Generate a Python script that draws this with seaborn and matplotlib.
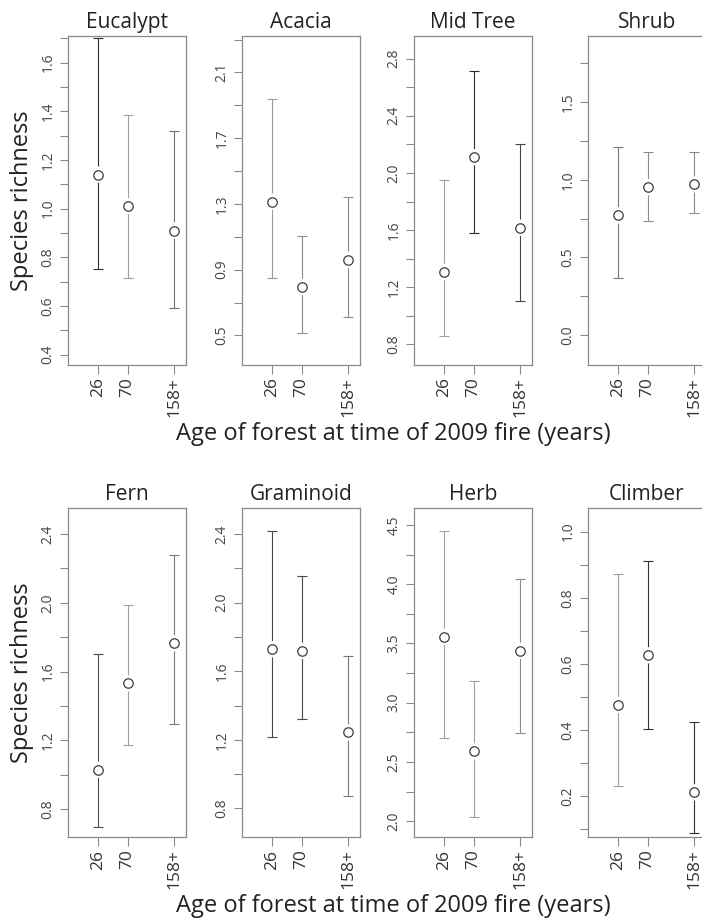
import numpy as np
import seaborn as sns
import matplotlib.pyplot as plt

# age classes on the x axis
ages = ["26", "70", "158+"]
groups = ["Eucalypt", "Acacia", "Mid Tree", "Shrub",
          "Fern", "Graminoid", "Herb", "Climber"]

# mean species richness and interval ends
eucalypt_mean = [1.14, 1.01, 0.91]
eucalypt_low = [0.75, 0.715, 0.59]
eucalypt_high = [1.70, 1.385, 1.32]

acacia_mean = [1.314, 0.795, 0.96]
acacia_low = [0.852, 0.516, 0.611]
acacia_high = [1.94, 1.108, 1.34]

midtree_mean = [1.308, 2.11, 1.616]
midtree_low = [0.862, 1.577, 1.105]
midtree_high = [1.953, 2.713, 2.2]

shrub_mean = [0.77, 0.953, 0.97]
shrub_low = [0.366, 0.734, 0.783]
shrub_high = [1.213, 1.179, 1.179]

fern_mean = [1.029, 1.531, 1.764]
fern_low = [0.699, 1.175, 1.296]
fern_high = [1.70, 1.985, 2.278]

graminoid_mean = [1.728, 1.718, 1.243]
graminoid_low = [1.219, 1.32, 0.873]
graminoid_high = [2.416, 2.158, 1.689]

herb_mean = [3.556, 2.589, 3.439]
herb_low = [2.703, 2.037, 2.747]
herb_high = [4.446, 3.183, 4.042]

climber_mean = [0.476, 0.626, 0.212]
climber_low = [0.231, 0.402, 0.09]
climber_high = [0.873, 0.912, 0.425]

# labelled y ticks of each panel
eucalypt_yticks = [0.4, 0.6, 0.8, 1.0, 1.2, 1.4, 1.6]
acacia_yticks = [0.5, 0.9, 1.3, 1.7, 2.1]
midtree_yticks = [0.8, 1.2, 1.6, 2.0, 2.4, 2.8]
shrub_yticks = [0.0, 0.5, 1.0, 1.5]
fern_yticks = [0.8, 1.2, 1.6, 2.0, 2.4]
graminoid_yticks = [0.8, 1.2, 1.6, 2.0, 2.4]
herb_yticks = [2.0, 2.5, 3.0, 3.5, 4.0, 4.5]
climber_yticks = [0.2, 0.4, 0.6, 0.8, 1.0]

panel_values = {
    "Eucalypt": (eucalypt_mean, eucalypt_low, eucalypt_high, eucalypt_yticks),
    "Acacia": (acacia_mean, acacia_low, acacia_high, acacia_yticks),
    "Mid Tree": (midtree_mean, midtree_low, midtree_high, midtree_yticks),
    "Shrub": (shrub_mean, shrub_low, shrub_high, shrub_yticks),
    "Fern": (fern_mean, fern_low, fern_high, fern_yticks),
    "Graminoid": (graminoid_mean, graminoid_low, graminoid_high, graminoid_yticks),
    "Herb": (herb_mean, herb_low, herb_high, herb_yticks),
    "Climber": (climber_mean, climber_low, climber_high, climber_yticks),
}

# axis ranges
ylims = {
    "Eucalypt": (0.357, 1.71), "Acacia": (0.32, 2.322),
    "Mid Tree": (0.656, 2.958), "Shrub": (-0.194, 1.927),
    "Fern": (0.638, 2.551), "Graminoid": (0.633, 2.552),
    "Herb": (1.866, 4.644), "Climber": (0.077, 1.071),
}

# grey level of each error bar (as it comes out in the original)
bar_shades = {
    "Eucalypt": ["#2e2e2e", "#a0a0a0", "#707070"],
    "Acacia": ["#9a9a9a", "#8c8c8c", "#8c8c8c"],
    "Mid Tree": ["#a0a0a0", "#2e2e2e", "#454545"],
    "Shrub": ["#7a7a7a", "#8c8c8c", "#8c8c8c"],
    "Fern": ["#4a4a4a", "#a0a0a0", "#7a7a7a"],
    "Graminoid": ["#4a4a4a", "#4a4a4a", "#7a7a7a"],
    "Herb": ["#a0a0a0", "#a0a0a0", "#8c8c8c"],
    "Climber": ["#a0a0a0", "#333333", "#333333"],
}

x_pos = [1, 2, 3.55]

sns.set_style("ticks")
plt.rcParams['font.family'] = ['Open Sans', 'DejaVu Sans']

W, H = 702, 919
fig = plt.figure(figsize=(W / 100, H / 100), dpi=100)


def px_axes(left, top, width=118, height=329):
    return fig.add_axes([left / W, 1 - (top + height) / H, width / W, height / H])


lefts = [68, 242, 414, 588]
tops = [36, 508]

for i, name in enumerate(groups):
    mean, low, high, yt = panel_values[name]
    ax = px_axes(lefts[i % 4], tops[i // 4])
    for x, m, lo, hi, c in zip(x_pos, mean, low, high, bar_shades[name]):
        ax.errorbar([x], [m], yerr=[[m - lo], [hi - m]], fmt='none', ecolor=c,
                    elinewidth=0.8, capsize=3.3, capthick=0.8, zorder=2)
    # white halo so the whiskers stop short of the circle
    sns.scatterplot(x=x_pos, y=mean, s=140, color='white', edgecolor='none',
                    linewidth=0, ax=ax, zorder=3, legend=False)
    sns.scatterplot(x=x_pos, y=mean, s=46, color='white', edgecolor='#3c3c3c',
                    linewidth=0.9, ax=ax, zorder=4, legend=False)

    ax.set_xlim(0, 3.95)
    lo_lim, hi_lim = ylims[name]
    ax.set_ylim(lo_lim, hi_lim)
    ax.set_xlabel('')
    ax.set_ylabel('')

    ax.set_xticks(x_pos)
    ax.set_xticklabels(ages, rotation=90, fontsize=12.5, color='#333333')
    ax.set_yticks(yt)
    ax.set_yticklabels([f"{v:.1f}" for v in yt], rotation=90, va='center',
                       fontsize=10, color='#444444')
    half = (yt[1] - yt[0]) / 2
    minor = np.arange(yt[0] - half, hi_lim, half)
    minor = [v for v in minor if lo_lim <= v <= hi_lim
             and min(abs(v - t) for t in yt) > half / 2]
    ax.set_yticks(minor, minor=True)

    ax.tick_params(axis='x', length=6.5, width=0.8, pad=2.5, color='#8a8a8a')
    ax.tick_params(axis='y', which='both', length=5.5, width=0.8, pad=3.5,
                   color='#8a8a8a')
    for s in ax.spines.values():
        s.set_color('#8a8a8a')
        s.set_linewidth(0.9)

    ax.set_title(name, fontsize=15, pad=5.5, color='#222222')

for top in tops:
    fig.text(22 / W, 1 - (top + 164.5) / H, "Species richness", rotation=90,
             ha='center', va='center', fontsize=17, color='#222222')
    fig.text(393 / W, 1 - (top + 404) / H,
             "Age of forest at time of 2009 fire (years)",
             ha='center', va='baseline', fontsize=17, color='#222222')

fig.savefig("out.png", dpi=100)
